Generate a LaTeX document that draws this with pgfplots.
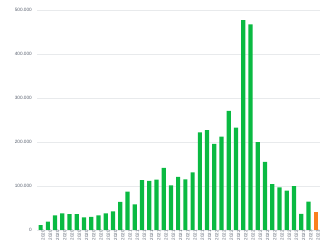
\documentclass[border=0pt]{standalone}
\usepackage{pgfplots}
\pgfplotsset{compat=1.18}
\usepackage{fontspec}
\setmainfont{Liberation Sans}
\definecolor{bargreen}{RGB}{10,186,66}
\definecolor{barorange}{RGB}{250,128,30}
\definecolor{ticklab}{RGB}{90,98,112}
\definecolor{gridc}{RGB}{232,234,236}
\begin{document}
\begin{tikzpicture}
\begin{axis}[
  at={(0pt,0pt)}, anchor=south west,
  scale only axis, width=283pt, height=220pt,
  xmin=-0.5, xmax=38.6, ymin=0, ymax=500000,
  axis line style={draw=none},
  major tick length=0pt,
  ymajorgrids, grid style={draw=gridc, line width=0.5pt},
  ytick={0,100000,200000,300000,400000,500000},
  yticklabels={0,100.000,200.000,300.000,400.000,500.000},
  scaled y ticks=false,
  yticklabel style={font=\fontsize{4.7}{5}\selectfont, text=ticklab, inner sep=0pt, xshift=-5pt},
  xtick={0,...,38},
  xticklabels={2020,2020,2020,2020,2020,2020,2020,2020,2020,2020,2020,2020,
    2021,2021,2021,2021,2021,2021,2021,2021,2021,2021,2021,2021,
    2022,2022,2022,2022,2022,2022,2022,2022,2022,2022,2022,2022,
    2023,2023,2023},
  xticklabel style={font=\fontsize{4.5}{5}\selectfont, text=ticklab, rotate=90, anchor=east, inner sep=0pt, yshift=-2.5pt},
]
\addplot[ybar, bar width=4.2pt, fill=bargreen, draw=none] coordinates {
(0,11000) (1,19000) (2,33000) (3,38000) (4,36000) (5,36000) (6,28500) (7,30000)
(8,33000) (9,38000) (10,42500) (11,64000) (12,87000) (13,58500) (14,113500) (15,111500)
(16,114500) (17,141000) (18,101500) (19,121000) (20,115000) (21,131000) (22,222000) (23,227000)
(24,196000) (25,212000) (26,271000) (27,232500) (28,477000) (29,467500) (30,199500) (31,155000)
(32,104000) (33,97000) (34,89500) (35,99500) (36,36500) (37,64500)
};
\addplot[ybar, bar width=4.2pt, fill=barorange, draw=none] coordinates {(38,41000)};
\end{axis}
\path (-37pt,-15pt) rectangle (289pt,230pt);
\end{tikzpicture}
\end{document}
